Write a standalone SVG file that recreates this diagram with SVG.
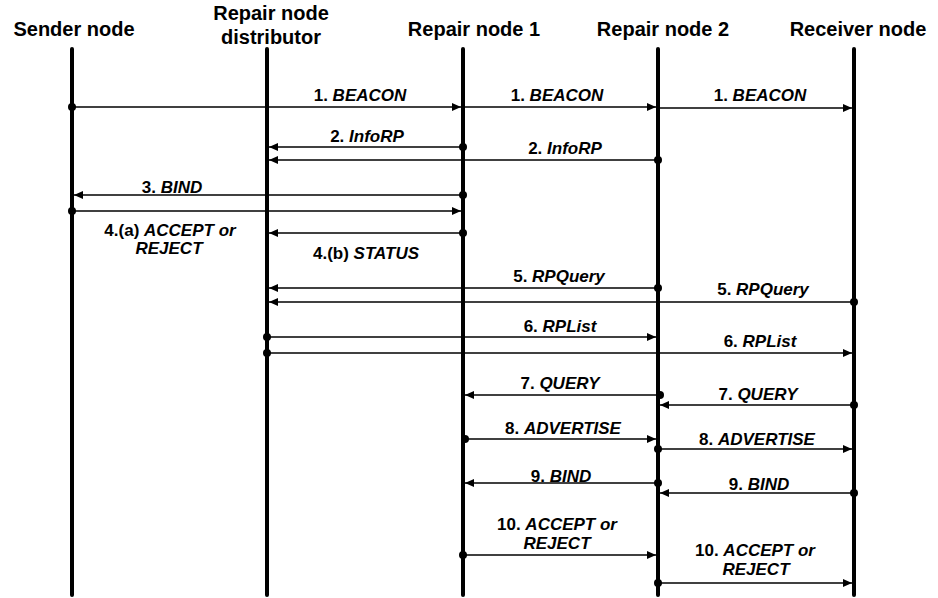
<svg xmlns="http://www.w3.org/2000/svg" width="938" height="598" viewBox="0 0 938 598">
<style>
.hdr{font-family:"Liberation Sans",Arial,sans-serif;font-weight:bold;font-size:20px;fill:#000;text-anchor:middle}
.lbl{font-family:"Liberation Sans",Arial,sans-serif;font-weight:bold;font-size:17px;fill:#000;text-anchor:middle}
.lbl tspan.i{font-style:italic}
.life{stroke:#000;stroke-width:4;stroke-linecap:round;fill:none}
.msg{stroke:#000;stroke-width:1.3;fill:none;marker-end:url(#ah)}
.dot{fill:#000}
</style>
<defs>
<marker id="ah" markerUnits="userSpaceOnUse" markerWidth="10" markerHeight="8" refX="9" refY="4" orient="auto">
<path d="M0,0 L9,4 L0,8 Z" fill="#000"/>
</marker>
</defs>
<g id="sender">
<text class="hdr" x="74" y="36">Sender node</text>
<line class="life" x1="72" y1="49" x2="72" y2="595"/>
</g>
<g id="distributor">
<text class="hdr" x="271" y="20">Repair node</text>
<text class="hdr" x="271" y="44">distributor</text>
<line class="life" x1="267" y1="49" x2="267" y2="595"/>
</g>
<g id="repair1">
<text class="hdr" x="474" y="36">Repair node 1</text>
<line class="life" x1="463" y1="49" x2="463" y2="595"/>
</g>
<g id="repair2">
<text class="hdr" x="663" y="36">Repair node 2</text>
<line class="life" x1="658" y1="49" x2="658" y2="595"/>
</g>
<g id="receiver">
<text class="hdr" x="858" y="36">Receiver node</text>
<line class="life" x1="854" y1="49" x2="854" y2="595"/>
</g>
<g id="connectors">
<!-- 1 BEACON -->
<line class="msg" x1="72" y1="107" x2="461" y2="107"/><circle class="dot" cx="72" cy="107" r="4"/>
<line class="msg" x1="463" y1="107" x2="656" y2="107"/>
<line class="msg" x1="658" y1="108" x2="852" y2="108"/>
<text class="lbl" x="360" y="101">1. <tspan class="i">BEACON</tspan></text>
<text class="lbl" x="557" y="101">1. <tspan class="i">BEACON</tspan></text>
<text class="lbl" x="760" y="101">1. <tspan class="i">BEACON</tspan></text>
<!-- 2 InfoRP -->
<line class="msg" x1="463" y1="147" x2="269" y2="147"/><circle class="dot" cx="463" cy="147" r="4"/>
<line class="msg" x1="658" y1="160" x2="269" y2="160"/><circle class="dot" cx="658" cy="160" r="4"/>
<text class="lbl" x="367" y="142">2. <tspan class="i">InfoRP</tspan></text>
<text class="lbl" x="565" y="154">2. <tspan class="i">InfoRP</tspan></text>
<!-- 3 BIND -->
<line class="msg" x1="463" y1="195" x2="74" y2="195"/><circle class="dot" cx="463" cy="195" r="4"/>
<text class="lbl" x="172" y="193">3. <tspan class="i">BIND</tspan></text>
<!-- 4a -->
<line class="msg" x1="72" y1="211" x2="461" y2="211"/><circle class="dot" cx="72" cy="211" r="4"/>
<text class="lbl" x="170" y="236">4.(a) <tspan class="i">ACCEPT or</tspan></text>
<text class="lbl" x="169" y="254"><tspan class="i">REJECT</tspan></text>
<!-- 4b -->
<line class="msg" x1="463" y1="233" x2="269" y2="233"/><circle class="dot" cx="463" cy="233" r="4"/>
<text class="lbl" x="366" y="259">4.(b) <tspan class="i">STATUS</tspan></text>
<!-- 5 RPQuery -->
<line class="msg" x1="658" y1="288" x2="269" y2="288"/><circle class="dot" cx="658" cy="288" r="4"/>
<line class="msg" x1="854" y1="302" x2="269" y2="302"/><circle class="dot" cx="854" cy="302" r="4"/>
<text class="lbl" x="559" y="282">5. <tspan class="i">RPQuery</tspan></text>
<text class="lbl" x="763" y="295">5. <tspan class="i">RPQuery</tspan></text>
<!-- 6 RPList -->
<line class="msg" x1="267" y1="337" x2="656" y2="337"/><circle class="dot" cx="267" cy="337" r="4"/>
<line class="msg" x1="267" y1="353" x2="852" y2="353"/><circle class="dot" cx="267" cy="353" r="4"/>
<text class="lbl" x="560" y="332">6. <tspan class="i">RPList</tspan></text>
<text class="lbl" x="760" y="347">6. <tspan class="i">RPList</tspan></text>
<!-- 7 QUERY -->
<line class="msg" x1="658" y1="395" x2="465" y2="395"/><circle class="dot" cx="660" cy="395" r="4"/>
<line class="msg" x1="854" y1="405" x2="660" y2="405"/><circle class="dot" cx="854" cy="405" r="4"/>
<text class="lbl" x="560" y="389">7. <tspan class="i">QUERY</tspan></text>
<text class="lbl" x="758" y="400">7. <tspan class="i">QUERY</tspan></text>
<!-- 8 ADVERTISE -->
<line class="msg" x1="463" y1="439" x2="656" y2="439"/><circle class="dot" cx="465" cy="439" r="4"/>
<line class="msg" x1="658" y1="449" x2="852" y2="449"/><circle class="dot" cx="658" cy="449" r="4"/>
<text class="lbl" x="563" y="434">8. <tspan class="i">ADVERTISE</tspan></text>
<text class="lbl" x="757" y="445">8. <tspan class="i">ADVERTISE</tspan></text>
<!-- 9 BIND -->
<line class="msg" x1="658" y1="483" x2="465" y2="483"/><circle class="dot" cx="658" cy="483" r="4"/>
<line class="msg" x1="854" y1="493" x2="660" y2="493"/><circle class="dot" cx="854" cy="493" r="4"/>
<text class="lbl" x="561" y="482">9. <tspan class="i">BIND</tspan></text>
<text class="lbl" x="759" y="490">9. <tspan class="i">BIND</tspan></text>
<!-- 10 ACCEPT or REJECT -->
<line class="msg" x1="463" y1="555" x2="656" y2="555"/><circle class="dot" cx="463" cy="555" r="4"/>
<line class="msg" x1="658" y1="583" x2="852" y2="583"/><circle class="dot" cx="658" cy="583" r="4"/>
<text class="lbl" x="557" y="530">10. <tspan class="i">ACCEPT or</tspan></text>
<text class="lbl" x="557" y="549"><tspan class="i">REJECT</tspan></text>
<text class="lbl" x="755" y="556">10. <tspan class="i">ACCEPT or</tspan></text>
<text class="lbl" x="756" y="575"><tspan class="i">REJECT</tspan></text>
</g>
</svg>
